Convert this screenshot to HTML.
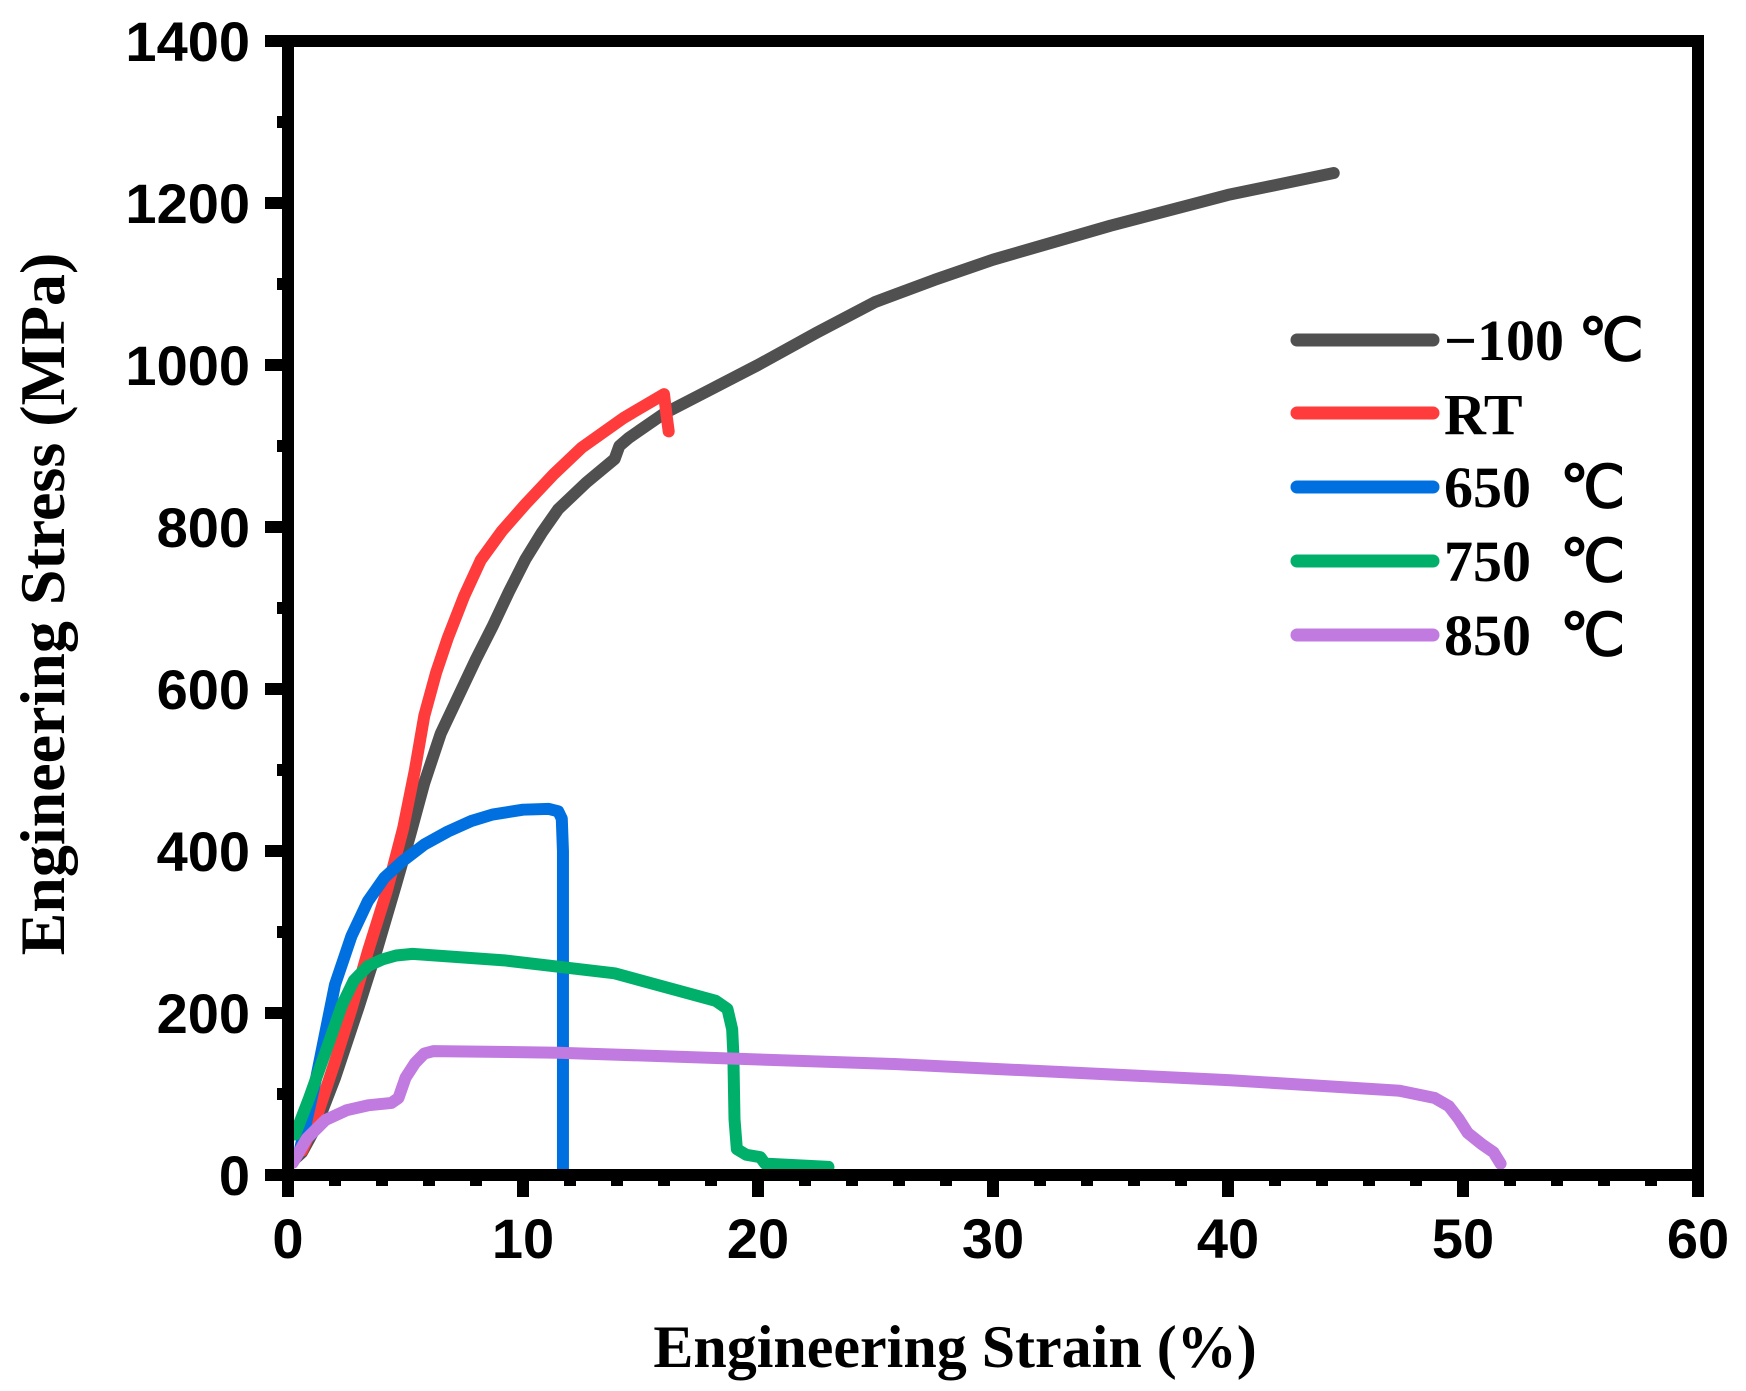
<!DOCTYPE html>
<html><head><meta charset="utf-8"><style>
html,body{margin:0;padding:0;background:#fff;}
svg{display:block}
.tl{font-family:"Liberation Sans",Arial,sans-serif;font-weight:bold;font-size:56px;fill:#000}
.tt{font-family:"Liberation Serif","Times New Roman",serif;font-weight:bold;fill:#000}
</style></head><body>
<svg width="1746" height="1391" viewBox="0 0 1746 1391" xmlns="http://www.w3.org/2000/svg">
<rect width="1746" height="1391" fill="#fff"/>
<g transform="translate(288,1175) scale(23.5,-0.81)" fill="none" stroke-linejoin="round" stroke-linecap="round">
<polyline vector-effect="non-scaling-stroke" stroke="#505050" stroke-width="12" points="0.3,20 0.6,28 1.2,60 2,120 3.0,207 3.8,280 4.6,359 5.2,420 5.8,484 6.5,545 7.3,594 8.0,637 8.7,677 9.4,720 10.1,760 10.8,793 11.5,822 12.7,855 13.9,884 14.1,900 14.5,910 16,940 18,970 20,1000 22.5,1040 25,1078 27.5,1105 30,1130 35,1172 40,1210 44.5,1237"/>
<polyline vector-effect="non-scaling-stroke" stroke="#ff3b3b" stroke-width="12" points="0.6,30 1.2,70 2,140 2.7,205 3.4,276 4.2,350 4.9,428 5.4,500 5.8,567 6.3,620 6.8,663 7.5,715 8.2,759 9.1,795 10.1,828 11.3,865 12.5,898 14.3,935 16.0,964 16.1,940 16.2,918"/>
<polyline vector-effect="non-scaling-stroke" stroke="#0070e0" stroke-width="12" points="0.5,30 1.2,120 2.0,235 2.7,295 3.4,338 4.1,367 4.9,388 5.8,408 6.8,424 7.8,437 8.7,445 10,451 11.1,452 11.5,449 11.65,440 11.7,400 11.7,0"/>
<polyline vector-effect="non-scaling-stroke" stroke="#00b06a" stroke-width="12" points="0.3,50 0.9,95 1.6,152 2.3,210 2.8,240 3.4,258 4.0,266 4.6,271 5.3,273 9.2,265 13.9,249 18.2,215 18.7,205 18.9,180 18.95,150 19.0,69 19.1,32 19.5,25 20.1,22 20.3,14 23.0,10"/>
<polyline vector-effect="non-scaling-stroke" stroke="#c07ae0" stroke-width="12" points="0.2,15 0.8,45 1.6,68 2.5,80 3.4,86 4.4,89 4.7,95 5.0,120 5.4,138 5.8,150 6.2,153 11.5,151 25.8,137 40.1,117 47.3,104 48.8,95 49.4,85 49.8,70 50.2,52 50.8,38 51.3,28 51.6,14"/>
</g>
<rect x="288" y="41" width="1410" height="1134" fill="none" stroke="#000" stroke-width="12"/>
<g stroke="#000" stroke-width="12">
<line x1="288" y1="1175" x2="288" y2="1197"/><line x1="523" y1="1175" x2="523" y2="1197"/><line x1="758" y1="1175" x2="758" y2="1197"/><line x1="993" y1="1175" x2="993" y2="1197"/><line x1="1228" y1="1175" x2="1228" y2="1197"/><line x1="1463" y1="1175" x2="1463" y2="1197"/><line x1="1698" y1="1175" x2="1698" y2="1197"/>
<line x1="288" y1="1175" x2="265" y2="1175"/><line x1="288" y1="1013" x2="265" y2="1013"/><line x1="288" y1="851" x2="265" y2="851"/><line x1="288" y1="689" x2="265" y2="689"/><line x1="288" y1="527" x2="265" y2="527"/><line x1="288" y1="365" x2="265" y2="365"/><line x1="288" y1="203" x2="265" y2="203"/><line x1="288" y1="41" x2="265" y2="41"/>
</g>
<g stroke="#000" stroke-width="12">
<line x1="335" y1="1175" x2="335" y2="1186"/><line x1="382" y1="1175" x2="382" y2="1186"/><line x1="429" y1="1175" x2="429" y2="1186"/><line x1="476" y1="1175" x2="476" y2="1186"/>
<line x1="570" y1="1175" x2="570" y2="1186"/><line x1="617" y1="1175" x2="617" y2="1186"/><line x1="664" y1="1175" x2="664" y2="1186"/><line x1="711" y1="1175" x2="711" y2="1186"/>
<line x1="805" y1="1175" x2="805" y2="1186"/><line x1="852" y1="1175" x2="852" y2="1186"/><line x1="899" y1="1175" x2="899" y2="1186"/><line x1="946" y1="1175" x2="946" y2="1186"/>
<line x1="1040" y1="1175" x2="1040" y2="1186"/><line x1="1087" y1="1175" x2="1087" y2="1186"/><line x1="1134" y1="1175" x2="1134" y2="1186"/><line x1="1181" y1="1175" x2="1181" y2="1186"/>
<line x1="1275" y1="1175" x2="1275" y2="1186"/><line x1="1322" y1="1175" x2="1322" y2="1186"/><line x1="1369" y1="1175" x2="1369" y2="1186"/><line x1="1416" y1="1175" x2="1416" y2="1186"/>
<line x1="1510" y1="1175" x2="1510" y2="1186"/><line x1="1557" y1="1175" x2="1557" y2="1186"/><line x1="1604" y1="1175" x2="1604" y2="1186"/><line x1="1651" y1="1175" x2="1651" y2="1186"/>
<line x1="288" y1="1094" x2="277" y2="1094"/><line x1="288" y1="932" x2="277" y2="932"/><line x1="288" y1="770" x2="277" y2="770"/><line x1="288" y1="608" x2="277" y2="608"/><line x1="288" y1="446" x2="277" y2="446"/><line x1="288" y1="284" x2="277" y2="284"/><line x1="288" y1="122" x2="277" y2="122"/>
</g>
<g class="tl" text-anchor="middle">
<text x="288" y="1258">0</text><text x="523" y="1258">10</text><text x="758" y="1258">20</text><text x="993" y="1258">30</text><text x="1228" y="1258">40</text><text x="1463" y="1258">50</text><text x="1698" y="1258">60</text>
</g>
<g class="tl" text-anchor="end">
<text x="250" y="1195">0</text><text x="250" y="1033">200</text><text x="250" y="871">400</text><text x="250" y="709">600</text><text x="250" y="547">800</text><text x="250" y="385">1000</text><text x="250" y="223">1200</text><text x="250" y="61">1400</text>
</g>
<text class="tt" x="955" y="1367" text-anchor="middle" font-size="60">Engineering Strain (%)</text>
<text class="tt" transform="translate(64,604) rotate(-90)" text-anchor="middle" font-size="64">Engineering Stress (MPa)</text>
<g stroke-width="13" stroke-linecap="round">
<line x1="1297" y1="340" x2="1433" y2="340" stroke="#505050"/>
<line x1="1297" y1="413" x2="1433" y2="413" stroke="#ff3b3b"/>
<line x1="1297" y1="487" x2="1433" y2="487" stroke="#0070e0"/>
<line x1="1297" y1="561" x2="1433" y2="561" stroke="#00b06a"/>
<line x1="1297" y1="635" x2="1433" y2="635" stroke="#c07ae0"/>
</g>
<g class="tt" font-size="58">
<text x="1444" y="360">−100 ℃</text>
<text x="1444" y="434">RT</text>
<text x="1444" y="507">650 &#160;℃</text>
<text x="1444" y="581">750 &#160;℃</text>
<text x="1444" y="655">850 &#160;℃</text>
</g>
</svg>
</body></html>
